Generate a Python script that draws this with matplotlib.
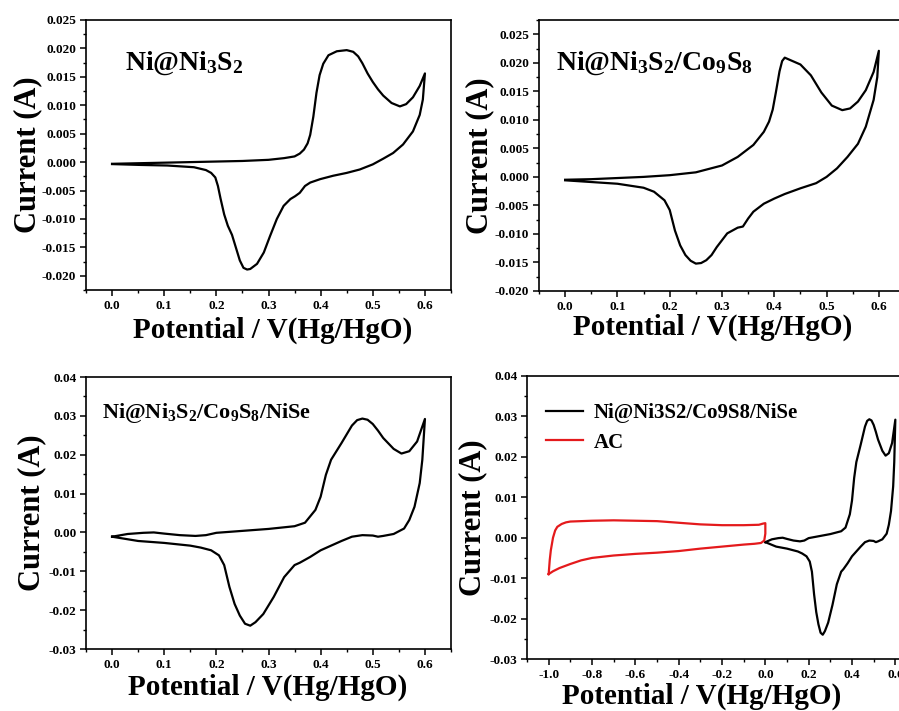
import matplotlib
matplotlib.use("Agg")
import matplotlib.pyplot as plt
from matplotlib.ticker import MultipleLocator
import numpy as np

plt.rcParams["font.family"] = ["Liberation Serif", "DejaVu Serif"]
plt.rcParams["font.weight"] = "bold"
plt.rcParams["mathtext.fontset"] = "custom"
plt.rcParams["mathtext.rm"] = "Liberation Serif:bold"
plt.rcParams["mathtext.it"] = "Liberation Serif:bold"
plt.rcParams["mathtext.bf"] = "Liberation Serif:bold"

# ---- Ni@Ni3S2 ----
p1_fwd_v = [0.0, 0.05, 0.1, 0.15, 0.2, 0.25, 0.3, 0.33, 0.35, 0.36, 0.368, 0.375, 0.38, 0.386,
            0.392, 0.398, 0.405, 0.415, 0.431, 0.45, 0.4625, 0.472, 0.48, 0.49, 0.5, 0.51, 0.52,
            0.536, 0.552, 0.564, 0.577, 0.59, 0.6]
p1_fwd_i = [-0.0003, -0.0002, -0.0001, 0.0, 0.0001, 0.0002, 0.0004, 0.0007, 0.001, 0.0015, 0.0022,
            0.0033, 0.0048, 0.008, 0.0122, 0.0153, 0.0173, 0.0188, 0.0195, 0.0197, 0.0194, 0.0186,
            0.0174, 0.0156, 0.0141, 0.0128, 0.0117, 0.0104, 0.0098, 0.0102, 0.0114, 0.0134, 0.0156]
p1_rev_v = [0.6, 0.596, 0.59, 0.577, 0.558, 0.539, 0.52, 0.5, 0.475, 0.45, 0.424, 0.399, 0.38,
            0.37, 0.36, 0.351, 0.342, 0.329, 0.316, 0.303, 0.291, 0.278, 0.265, 0.259, 0.252,
            0.245, 0.238, 0.23, 0.222, 0.215, 0.208, 0.203, 0.198, 0.19, 0.18, 0.157, 0.106,
            0.055, 0.0]
p1_rev_i = [0.0156, 0.011, 0.0083, 0.0054, 0.0031, 0.0016, 0.0006, -0.0004, -0.0013, -0.0019,
            -0.0024, -0.003, -0.0036, -0.0042, -0.0054, -0.006, -0.0065, -0.0077, -0.01, -0.013,
            -0.0159, -0.0179, -0.0188, -0.0189, -0.0186, -0.0173, -0.0152, -0.0128, -0.0112,
            -0.0092, -0.0064, -0.0042, -0.0027, -0.0019, -0.0014, -0.0009, -0.0006, -0.0005,
            -0.00035]

# ---- Ni@Ni3S2/Co9S8 ----
p2_fwd_v = [0.0, 0.05, 0.1, 0.15, 0.2, 0.25, 0.3, 0.33, 0.36, 0.38, 0.39, 0.397, 0.403, 0.41,
            0.415, 0.42, 0.43, 0.45, 0.47, 0.49, 0.51, 0.53, 0.545, 0.56, 0.575, 0.59, 0.6]
p2_fwd_i = [-0.0005, -0.0004, -0.0002, 0.0, 0.0003, 0.0008, 0.002, 0.0035, 0.0056, 0.0079, 0.0097,
            0.0118, 0.0148, 0.0185, 0.0203, 0.0209, 0.0205, 0.0197, 0.0178, 0.0148, 0.0125,
            0.0117, 0.012, 0.0132, 0.0152, 0.0184, 0.0221]
p2_rev_v = [0.6, 0.597, 0.59, 0.575, 0.56, 0.54, 0.52, 0.5, 0.48, 0.45, 0.42, 0.4, 0.38, 0.36,
            0.35, 0.34, 0.33, 0.32, 0.31, 0.30, 0.29, 0.28, 0.27, 0.26, 0.25, 0.24, 0.23, 0.22,
            0.21, 0.2, 0.19, 0.17, 0.15, 0.1, 0.05, 0.0]
p2_rev_i = [0.0221, 0.0175, 0.0135, 0.0088, 0.0058, 0.0035, 0.0015, 0.0, -0.0011, -0.002, -0.003,
            -0.0038, -0.0047, -0.0061, -0.0073, -0.0087, -0.0089, -0.0094, -0.0099, -0.0111,
            -0.0123, -0.0137, -0.0146, -0.0151, -0.0152, -0.0147, -0.0137, -0.012, -0.0094,
            -0.0058, -0.0041, -0.0026, -0.0019, -0.0012, -0.0009, -0.0006]

# ---- Ni@Ni3S2/Co9S8/NiSe ----
p3_fwd_v = [0.0, 0.03, 0.06, 0.08, 0.1, 0.13, 0.16, 0.18, 0.2, 0.25, 0.3, 0.35, 0.37, 0.39, 0.40,
            0.41, 0.42, 0.44, 0.46, 0.47, 0.48, 0.49, 0.50, 0.51, 0.52, 0.54, 0.555, 0.57, 0.585,
            0.6]
p3_fwd_i = [-0.0011, -0.0004, -0.0001, 0.0, -0.0003, -0.0007, -0.0009, -0.0007, -0.0001, 0.0004,
            0.0009, 0.0016, 0.0025, 0.0058, 0.0092, 0.0148, 0.0187, 0.023, 0.0275, 0.0289, 0.0293,
            0.029, 0.0279, 0.0262, 0.0243, 0.0215, 0.0203, 0.0209, 0.0234, 0.0292]
p3_rev_v = [0.6, 0.595, 0.59, 0.58, 0.57, 0.56, 0.54, 0.52, 0.51, 0.50, 0.48, 0.46, 0.44, 0.42,
            0.40, 0.38, 0.36, 0.35, 0.33, 0.31, 0.29, 0.275, 0.265, 0.255, 0.245, 0.235, 0.225,
            0.215, 0.205, 0.19, 0.17, 0.15, 0.1, 0.05, 0.0]
p3_rev_i = [0.0292, 0.0187, 0.0127, 0.0066, 0.0032, 0.001, -0.0004, -0.0009, -0.0011, -0.0008,
            -0.0007, -0.0011, -0.0022, -0.0034, -0.0046, -0.0063, -0.0078, -0.0084, -0.0115,
            -0.0166, -0.021, -0.0231, -0.024, -0.0235, -0.0214, -0.0184, -0.014, -0.0084,
            -0.0059, -0.0046, -0.0039, -0.0034, -0.0027, -0.0022, -0.0011]

# ---- AC ----
ac_fwd_v = [-1.0, -0.995, -0.99, -0.98, -0.97, -0.96, -0.94, -0.92, -0.9, -0.8, -0.7, -0.6, -0.5,
            -0.4, -0.3, -0.2, -0.1, -0.03, -0.01, 0.0]
ac_fwd_i = [-0.009, -0.0055, -0.0031, 0.0, 0.0018, 0.0027, 0.0034, 0.0038, 0.004, 0.0042, 0.0043,
            0.0042, 0.0041, 0.0037, 0.0033, 0.0031, 0.0031, 0.0032, 0.0035, 0.0036]
ac_rev_v = [0.0, 0.0, -0.005, -0.02, -0.05, -0.1, -0.2, -0.3, -0.4, -0.5, -0.6, -0.7, -0.8,
            -0.85, -0.9, -0.95, -0.98, -1.0]
ac_rev_i = [0.0036, 0.001, -0.0007, -0.0013, -0.0015, -0.0017, -0.0022, -0.0027, -0.0033,
            -0.0037, -0.004, -0.0044, -0.005, -0.0056, -0.0065, -0.0075, -0.0083, -0.009]

titles = ["Ni@Ni$_3$S$_2$", "Ni@Ni$_3$S$_2$/Co$_9$S$_8$", "Ni@Ni$_3$S$_2$/Co$_9$S$_8$/NiSe"]
legend_labels = ["Ni@Ni3S2/Co9S8/NiSe", "AC"]
XLABEL = "Potential / V(Hg/HgO)"
YLABEL = "Current (A)"

W, H = 899, 711
fig = plt.figure(figsize=(W / 100, H / 100), dpi=100)


def px_axes(left, right, top, bottom):
    return fig.add_axes([left / W, 1 - bottom / H, (right - left) / W, (bottom - top) / H])


def style(ax, xmaj, xmin, ymaj, ymin, yfmt, ylab_x, xlab_xy):
    ax.xaxis.set_major_locator(MultipleLocator(xmaj))
    ax.xaxis.set_minor_locator(MultipleLocator(xmin))
    ax.yaxis.set_major_locator(MultipleLocator(ymaj))
    ax.yaxis.set_minor_locator(MultipleLocator(ymin))
    ax.yaxis.set_major_formatter(plt.FormatStrFormatter(yfmt))
    ax.xaxis.set_major_formatter(plt.FormatStrFormatter("%.1f"))
    ax.tick_params(which="major", direction="out", length=4, width=1.1, labelsize=9.5, pad=3)
    ax.tick_params(which="minor", direction="out", length=2.5, width=1.0)
    for s in ax.spines.values():
        s.set_linewidth(1.2)
    ax.set_xlabel(XLABEL, fontsize=21, fontweight="bold")
    ax.set_ylabel(YLABEL, fontsize=22, fontweight="bold")
    ax.yaxis.set_label_coords(ylab_x, 0.5)
    ax.xaxis.set_label_coords(*xlab_xy)


lw = 1.6

ax1 = px_axes(86, 451, 20, 290)
ax1.plot(p1_fwd_v + p1_rev_v, p1_fwd_i + p1_rev_i, color="black", lw=lw)
ax1.set_xlim(-0.05, 0.65)
ax1.set_ylim(-0.0225, 0.025)
style(ax1, 0.1, 0.05, 0.005, 0.0025, "%.3f", -0.12, (0.51, -0.1))
ax1.text(0.107, 0.84, titles[0], transform=ax1.transAxes, fontsize=20, va="center")

ax2 = px_axes(539, 905, 20, 291)
ax2.plot(p2_fwd_v + p2_rev_v, p2_fwd_i + p2_rev_i, color="black", lw=lw)
ax2.set_xlim(-0.05, 0.65)
ax2.set_ylim(-0.02, 0.0275)
style(ax2, 0.1, 0.05, 0.005, 0.0025, "%.3f", -0.122, (0.475, -0.085))
ax2.text(0.046, 0.84, titles[1], transform=ax2.transAxes, fontsize=20, va="center")

ax3 = px_axes(86, 451, 377, 649)
ax3.plot(p3_fwd_v + p3_rev_v, p3_fwd_i + p3_rev_i, color="black", lw=lw)
ax3.set_xlim(-0.05, 0.65)
ax3.set_ylim(-0.03, 0.04)
style(ax3, 0.1, 0.05, 0.01, 0.005, "%.2f", -0.109, (0.497, -0.092))
ax3.text(0.044, 0.868, titles[2], transform=ax3.transAxes, fontsize=16, va="center")

ax4 = px_axes(527, 917, 376, 659)
ax4.plot(p3_fwd_v + p3_rev_v, p3_fwd_i + p3_rev_i, color="black", lw=lw, label=legend_labels[0])
ax4.plot(ac_fwd_v + ac_rev_v, ac_fwd_i + ac_rev_i, color="#e41a1c", lw=lw, label=legend_labels[1])
ax4.set_xlim(-1.1, 0.7)
ax4.set_ylim(-0.03, 0.04)
style(ax4, 0.2, 0.1, 0.01, 0.005, "%.2f", -0.102, (0.449, -0.082))
ax4.legend(loc="upper left", bbox_to_anchor=(0.0, 0.97), frameon=False,
           prop={"family": "Liberation Serif", "weight": "bold", "size": 15},
           handlelength=1.8, handletextpad=0.5, labelspacing=0.45)

fig.savefig("out.png", dpi=100)
